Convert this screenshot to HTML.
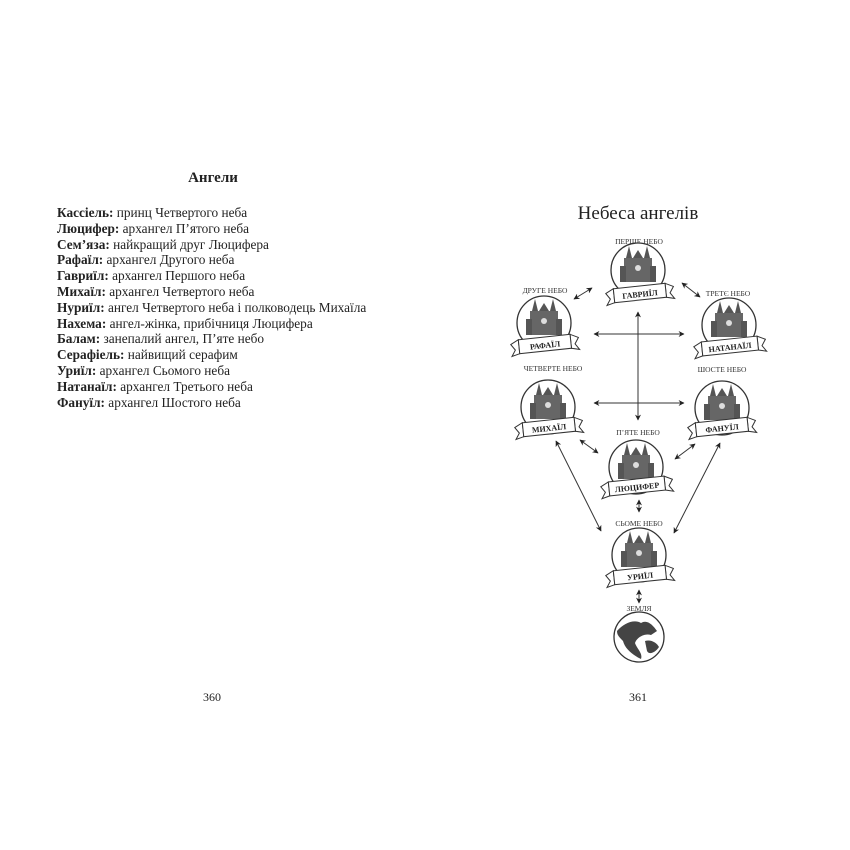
<!DOCTYPE html>
<html><head><meta charset="utf-8"><style>
html,body{margin:0;padding:0;background:#fff;}
body{width:850px;height:850px;position:relative;overflow:hidden;font-family:"Liberation Serif",serif;color:#222;}
.h{position:absolute;left:0;width:426px;top:170px;text-align:center;font-weight:bold;font-size:15px;}
.list{position:absolute;left:57px;top:205px;font-size:13.3px;line-height:15.8px;white-space:nowrap;}
.list b{font-weight:bold;}
.pn{position:absolute;top:690px;font-size:12px;}
</style></head><body>
<div class="h">Ангели</div>
<div class="list">
<b>Кассіель:</b> принц Четвертого неба<br>
<b>Люцифер:</b> архангел П’ятого неба<br>
<b>Сем’яза:</b> найкращий друг Люцифера<br>
<b>Рафаїл:</b> архангел Другого неба<br>
<b>Гавриїл:</b> архангел Першого неба<br>
<b>Михаїл:</b> архангел Четвертого неба<br>
<b>Нуриїл:</b> ангел Четвертого неба і полководець Михаїла<br>
<b>Нахема:</b> ангел-жінка, прибічниця Люцифера<br>
<b>Балам:</b> занепалий ангел, П’яте небо<br>
<b>Серафіель:</b> найвищий серафим<br>
<b>Уриїл:</b> архангел Сьомого неба<br>
<b>Натанаїл:</b> архангел Третього неба<br>
<b>Фануїл:</b> архангел Шостого неба
</div>
<div class="pn" style="left:203px">360</div>
<div class="pn" style="left:629px">361</div>
<svg width="850" height="850" style="position:absolute;left:0;top:0" font-family="Liberation Serif, serif">
<defs>
<marker id="a" viewBox="0 0 10 10" refX="9" refY="5" markerWidth="6" markerHeight="6" orient="auto-start-reverse"><path d="M0,0L10,5L0,10L3,5z" fill="#222"/></marker>
<g id="bld">
<rect x="-14" y="-12" width="28" height="24" fill="#666"/>
<rect x="-18" y="-4" width="6" height="16" fill="#555"/>
<rect x="12" y="-4" width="6" height="16" fill="#555"/>
<path d="M-12,-12L-9,-24L-6,-12z M6,-12L9,-24L12,-12z M-5,-12L0,-20L5,-12z" fill="#555"/>
<circle cx="0" cy="-2" r="3" fill="#ddd"/>
</g>
<g id="node">
<circle r="27" fill="#fff" stroke="#333" stroke-width="1.3"/>
<use href="#bld"/>
</g>
</defs>
<text x="638" y="219" text-anchor="middle" font-size="19" fill="#222">Небеса ангелів</text>
<g stroke="#333" stroke-width="1" fill="none">
<line x1="638" y1="312" x2="638" y2="420" marker-start="url(#a)" marker-end="url(#a)"/>
<line x1="594" y1="334" x2="684" y2="334" marker-start="url(#a)" marker-end="url(#a)"/>
<line x1="594" y1="403" x2="684" y2="403" marker-start="url(#a)" marker-end="url(#a)"/>
<line x1="592" y1="288" x2="574" y2="299" marker-start="url(#a)" marker-end="url(#a)"/>
<line x1="682" y1="283" x2="700" y2="297" marker-start="url(#a)" marker-end="url(#a)"/>
<line x1="598" y1="453" x2="580" y2="440" marker-start="url(#a)" marker-end="url(#a)"/>
<line x1="675" y1="459" x2="695" y2="444" marker-start="url(#a)" marker-end="url(#a)"/>
<line x1="556" y1="441" x2="601" y2="531" marker-start="url(#a)" marker-end="url(#a)"/>
<line x1="720" y1="443" x2="674" y2="533" marker-start="url(#a)" marker-end="url(#a)"/>
<line x1="639" y1="500" x2="639" y2="512" marker-start="url(#a)" marker-end="url(#a)"/>
<line x1="639" y1="590" x2="639" y2="603" marker-start="url(#a)" marker-end="url(#a)"/>
</g>
<g font-size="7.5" text-anchor="middle" fill="#333">
<text x="639" y="244">ПЕРШЕ НЕБО</text>
<text x="545" y="293">ДРУГЕ НЕБО</text>
<text x="728" y="296">ТРЕТЄ НЕБО</text>
<text x="553" y="371">ЧЕТВЕРТЕ НЕБО</text>
<text x="722" y="372">ШОСТЕ НЕБО</text>
<text x="638" y="435">П’ЯТЕ НЕБО</text>
<text x="639" y="526">СЬОМЕ НЕБО</text>
<text x="639" y="611">ЗЕМЛЯ</text>
</g>
<g id="nodes">
<g transform="translate(638,270)"><use href="#node"/></g>
<g transform="translate(544,323)"><use href="#node"/></g>
<g transform="translate(729,325)"><use href="#node"/></g>
<g transform="translate(548,407)"><use href="#node"/></g>
<g transform="translate(722,408)"><use href="#node"/></g>
<g transform="translate(636,467)"><use href="#node"/></g>
<g transform="translate(639,555)"><use href="#node"/></g>
</g>
<g stroke="#333" stroke-width="1" fill="#fff" font-size="8" font-weight="bold" text-anchor="middle">
<g transform="translate(640,294) rotate(-6)"><path d="M-34,-4L-26,-8L-26,6L-34,8L-30,2z M34,-4L26,-8L26,6L34,8L30,2z"/><rect x="-26" y="-8" width="52" height="14"/><text y="3" stroke="none" fill="#222">ГАВРИЇЛ</text></g>
<g transform="translate(545,345) rotate(-6)"><path d="M-34,-4L-26,-8L-26,6L-34,8L-30,2z M34,-4L26,-8L26,6L34,8L30,2z"/><rect x="-26" y="-8" width="52" height="14"/><text y="3" stroke="none" fill="#222">РАФАЇЛ</text></g>
<g transform="translate(730,347) rotate(-6)"><path d="M-36,-4L-28,-8L-28,6L-36,8L-32,2z M36,-4L28,-8L28,6L36,8L32,2z"/><rect x="-28" y="-8" width="56" height="14"/><text y="3" stroke="none" fill="#222">НАТАНАЇЛ</text></g>
<g transform="translate(549,428) rotate(-6)"><path d="M-34,-4L-26,-8L-26,6L-34,8L-30,2z M34,-4L26,-8L26,6L34,8L30,2z"/><rect x="-26" y="-8" width="52" height="14"/><text y="3" stroke="none" fill="#222">МИХАЇЛ</text></g>
<g transform="translate(722,428) rotate(-6)"><path d="M-34,-4L-26,-8L-26,6L-34,8L-30,2z M34,-4L26,-8L26,6L34,8L30,2z"/><rect x="-26" y="-8" width="52" height="14"/><text y="3" stroke="none" fill="#222">ФАНУЇЛ</text></g>
<g transform="translate(637,487) rotate(-6)"><path d="M-36,-4L-28,-8L-28,6L-36,8L-32,2z M36,-4L28,-8L28,6L36,8L32,2z"/><rect x="-28" y="-8" width="56" height="14"/><text y="3" stroke="none" fill="#222">ЛЮЦИФЕР</text></g>
<g transform="translate(640,576) rotate(-6)"><path d="M-34,-4L-26,-8L-26,6L-34,8L-30,2z M34,-4L26,-8L26,6L34,8L30,2z"/><rect x="-26" y="-8" width="52" height="14"/><text y="3" stroke="none" fill="#222">УРИЇЛ</text></g>
</g>
<g transform="translate(639,637)">
<circle r="25" fill="#fff" stroke="#333" stroke-width="1.3"/>
<path d="M-22,-6C-15,-14 -5,-18 2,-14C8,-18 14,-12 18,-6L12,-2C6,-4 -2,0 -4,6C-2,12 4,16 2,22C-6,18 -14,12 -16,4C-20,0 -22,-2 -22,-6z" fill="#444"/>
<path d="M6,4C12,2 18,6 20,10C16,16 10,18 8,14z" fill="#444"/>
</g>
</svg>
</body></html>
